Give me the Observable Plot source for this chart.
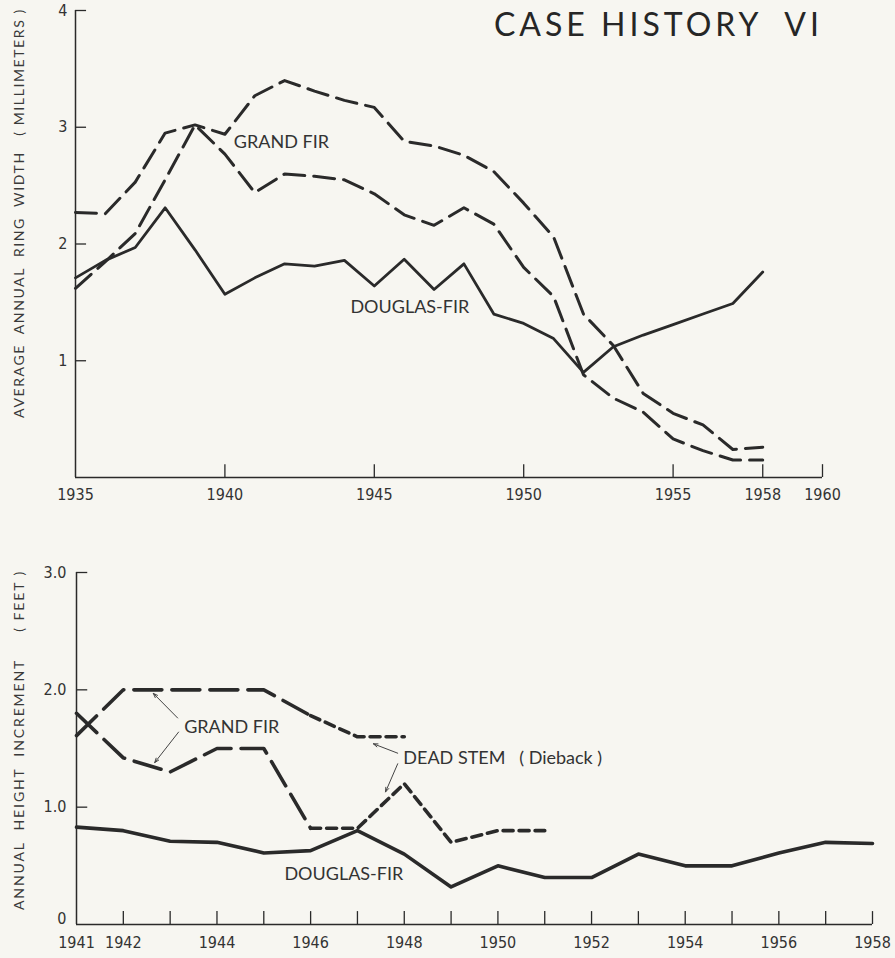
<!DOCTYPE html>
<html>
<head>
<meta charset="utf-8">
<script src="https://cdn.jsdelivr.net/npm/d3@7"></script>
<script src="https://cdn.jsdelivr.net/npm/@observablehq/plot@0.6"></script>
<style>
  html, body { margin: 0; padding: 0; background: #f7f6f1; }
  #wrap { position: relative; width: 895px; height: 958px; overflow: hidden; background: #f7f6f1; }
  #top, #bottom { position: absolute; left: 0; }
  #top { top: 0; }
  #bottom { top: 520px; }
  .title { position: absolute; right: 72px; top: 4px; font-family: Lato, "Noto Sans", sans-serif; font-size: 32px; letter-spacing: 4px; color: #262626; white-space: pre; }
  .ylab { position: absolute; font-family: Lato, "Noto Sans", sans-serif; font-size: 14px; letter-spacing: 1.9px; color: #3a3a3a; white-space: pre; transform: translate(-50%, -50%) rotate(-90deg); }
</style>
</head>
<body>
<div id="wrap">
  <div id="top"></div>
  <div id="bottom"></div>
  <div class="title">CASE HISTORY  VI</div>
  <div class="ylab" style="left:18px; top:213px; letter-spacing:1.6px;">AVERAGE  ANNUAL  RING  WIDTH   ( MILLIMETERS )</div>
  <div class="ylab" style="left:18px; top:740px;">ANNUAL  HEIGHT  INCREMENT     ( FEET )</div>
</div>
<script>
// ---------- Top chart: average annual ring width (mm) ----------
const topYears = [1935,1936,1937,1938,1939,1940,1941,1942,1943,1944,1945,1946,1947,1948,1949,1950,1951,1952,1953,1954,1955,1956,1957,1958];
const topDouglasFir = [1.71,1.86,1.97,2.31,1.95,1.57,1.71,1.83,1.81,1.86,1.64,1.87,1.61,1.83,1.40,1.32,1.19,0.90,1.12,1.22,1.31,1.40,1.49,1.76];
const topGrandFirA  = [2.27,2.26,2.53,2.95,3.02,2.94,3.27,3.40,3.31,3.23,3.17,2.88,2.84,2.76,2.62,2.35,2.06,1.40,1.13,0.72,0.55,0.45,0.24,0.26];
const topGrandFirB  = [1.62,1.85,2.09,2.55,3.02,2.77,2.44,2.60,2.58,2.55,2.43,2.25,2.16,2.31,2.17,1.80,1.55,0.88,0.68,0.56,0.33,0.23,0.15,0.15];
const topXTicks  = [1940,1945,1950,1955,1958,1960];
const topXLabels = [1935,1940,1945,1950,1955,1958,1960];
const topYTicks  = [1,2,3,4];
const topNotes = [
  {x: 1940.3, y: 2.87, text: "GRAND FIR"},
  {x: 1944.2, y: 1.46, text: "DOUGLAS-FIR"}
];

// ---------- Bottom chart: annual height increment (ft) ----------
const bottomYears = [1941,1942,1943,1944,1945,1946,1947,1948,1949,1950,1951,1952,1953,1954,1955,1956,1957,1958];
const bottomDouglasFir = [0.83,0.80,0.71,0.70,0.61,0.63,0.80,0.60,0.32,0.50,0.40,0.40,0.60,0.50,0.50,0.61,0.70,0.69];
const grandFirCYears = [1941,1942,1943,1944,1945,1946];
const grandFirC      = [1.61,2.00,2.00,2.00,2.00,1.78];
const deadStemCYears = [1946,1947,1948];
const deadStemC      = [1.78,1.60,1.60];
const grandFirDYears = [1941,1942,1943,1944,1945,1946];
const grandFirD      = [1.80,1.42,1.30,1.50,1.50,0.82];
const deadStemDYears = [1946,1947,1948,1949,1950,1951];
const deadStemD      = [0.82,0.82,1.20,0.70,0.80,0.80];
const bottomXTicks  = [1942,1943,1944,1945,1946,1947,1948,1949,1950,1951,1952,1953,1954,1955,1956,1957,1958];
const bottomXLabels = [1941,1942,1944,1946,1948,1950,1952,1954,1956,1958];
const bottomYTicks  = [1,2,3];
const bottomYLabels = [1,2,3];
const bottomYZero   = [0];
const bottomNotes = [
  {x: 1943.3, y: 1.68, text: "GRAND FIR"},
  {x: 1947.98, y: 1.42, text: "DEAD STEM   ( Dieback )"},
  {x: 1945.44, y: 0.43, text: "DOUGLAS-FIR"}
];
const bottomArrows = [
  {x1: 1943.16, y1: 1.76, x2: 1942.64, y2: 1.97},
  {x1: 1943.18, y1: 1.64, x2: 1942.67, y2: 1.38},
  {x1: 1947.86, y1: 1.46, x2: 1947.34, y2: 1.54},
  {x1: 1947.86, y1: 1.37, x2: 1947.60, y2: 1.13}
];

const INK = "#2a2a2a";
const tickFont = '"Liberation Sans Narrow", "DejaVu Sans Condensed", "Roboto", sans-serif';
const noteFont = 'Lato, "Noto Sans", sans-serif';
const series = (years, vals) => years.map((year, i) => ({year, value: vals[i]}));

const topPlot = Plot.plot({
  width: 895, height: 520,
  marginLeft: 75, marginRight: 73, marginTop: 10, marginBottom: 43,
  x: {domain: [1935, 1960]},
  y: {domain: [0, 4]},
  style: {background: "transparent", fontFamily: tickFont, fontSize: "16px", color: "#333", fontStretch: "condensed"},
  marks: [
    Plot.ruleY([0], {x1: 1935, x2: 1960, stroke: INK, strokeWidth: 1.5}),
    Plot.ruleX([1935], {y1: 0, y2: 4, stroke: INK, strokeWidth: 1.5}),
    Plot.ruleX(topXTicks, {x: d => d, y1: 0, y2: 0.11, stroke: INK, strokeWidth: 1.3}),
    Plot.ruleY(topYTicks, {y: d => d, x1: 1935, x2: 1935.37, stroke: INK, strokeWidth: 1.3}),
    Plot.axisX({ticks: topXLabels, tickSize: 0, tickPadding: 11, tickFormat: d => String(d), label: null}),
    Plot.axisY({ticks: topYTicks, tickSize: 0, tickPadding: 8, tickFormat: d => String(d), label: null}),
    Plot.line(series(topYears, topGrandFirA), {x: "year", y: "value", stroke: INK, strokeWidth: 3, strokeDasharray: "21,9"}),
    Plot.line(series(topYears, topGrandFirB), {x: "year", y: "value", stroke: INK, strokeWidth: 3, strokeDasharray: "21,9"}),
    Plot.line(series(topYears, topDouglasFir), {x: "year", y: "value", stroke: INK, strokeWidth: 2.8}),
    Plot.text(topNotes, {x: "x", y: "y", text: "text", textAnchor: "start", fontFamily: noteFont, fontSize: 18, fill: "#333", letterSpacing: 0.8})
  ]
});
document.getElementById("top").appendChild(topPlot);

const bottomPlot = Plot.plot({
  width: 895, height: 438,
  marginLeft: 76, marginRight: 23, marginTop: 52, marginBottom: 34,
  x: {domain: [1941, 1958]},
  y: {domain: [0, 3]},
  style: {background: "transparent", fontFamily: tickFont, fontSize: "16px", color: "#333", fontStretch: "condensed"},
  marks: [
    Plot.ruleY([0], {x1: 1941, x2: 1958, stroke: INK, strokeWidth: 1.5}),
    Plot.ruleX([1941], {y1: 0, y2: 3, stroke: INK, strokeWidth: 1.5}),
    Plot.ruleX(bottomXTicks, {x: d => d, y1: 0, y2: 0.11, stroke: INK, strokeWidth: 1.3}),
    Plot.ruleY(bottomYTicks, {y: d => d, x1: 1941, x2: 1941.24, stroke: INK, strokeWidth: 1.3}),
    Plot.axisX({ticks: bottomXLabels, tickSize: 0, tickPadding: 12, tickFormat: d => String(d), label: null}),
    Plot.axisY({ticks: bottomYLabels, tickSize: 0, tickPadding: 10, tickFormat: d => d.toFixed(1), label: null}),
    Plot.axisY({ticks: bottomYZero, tickSize: 0, tickPadding: 10, dy: -6, tickFormat: d => String(d), label: null}),
    Plot.line(series(grandFirCYears, grandFirC), {x: "year", y: "value", stroke: INK, strokeWidth: 3.6, strokeDasharray: "28,10"}),
    Plot.line(series(grandFirDYears, grandFirD), {x: "year", y: "value", stroke: INK, strokeWidth: 3.6, strokeDasharray: "28,10"}),
    Plot.line(series(deadStemCYears, deadStemC), {x: "year", y: "value", stroke: INK, strokeWidth: 3.6, strokeDasharray: "10,6"}),
    Plot.line(series(deadStemDYears, deadStemD), {x: "year", y: "value", stroke: INK, strokeWidth: 3.6, strokeDasharray: "10,6"}),
    Plot.line(series(bottomYears, bottomDouglasFir), {x: "year", y: "value", stroke: INK, strokeWidth: 3.6}),
    Plot.arrow(bottomArrows, {x1: "x1", y1: "y1", x2: "x2", y2: "y2", stroke: "#444", strokeWidth: 1, headLength: 7, headAngle: 40}),
    Plot.text(bottomNotes, {x: "x", y: "y", text: "text", textAnchor: "start", fontFamily: noteFont, fontSize: 18, fill: "#333", letterSpacing: 0.8})
  ]
});
document.getElementById("bottom").appendChild(bottomPlot);
</script>
</body>
</html>
